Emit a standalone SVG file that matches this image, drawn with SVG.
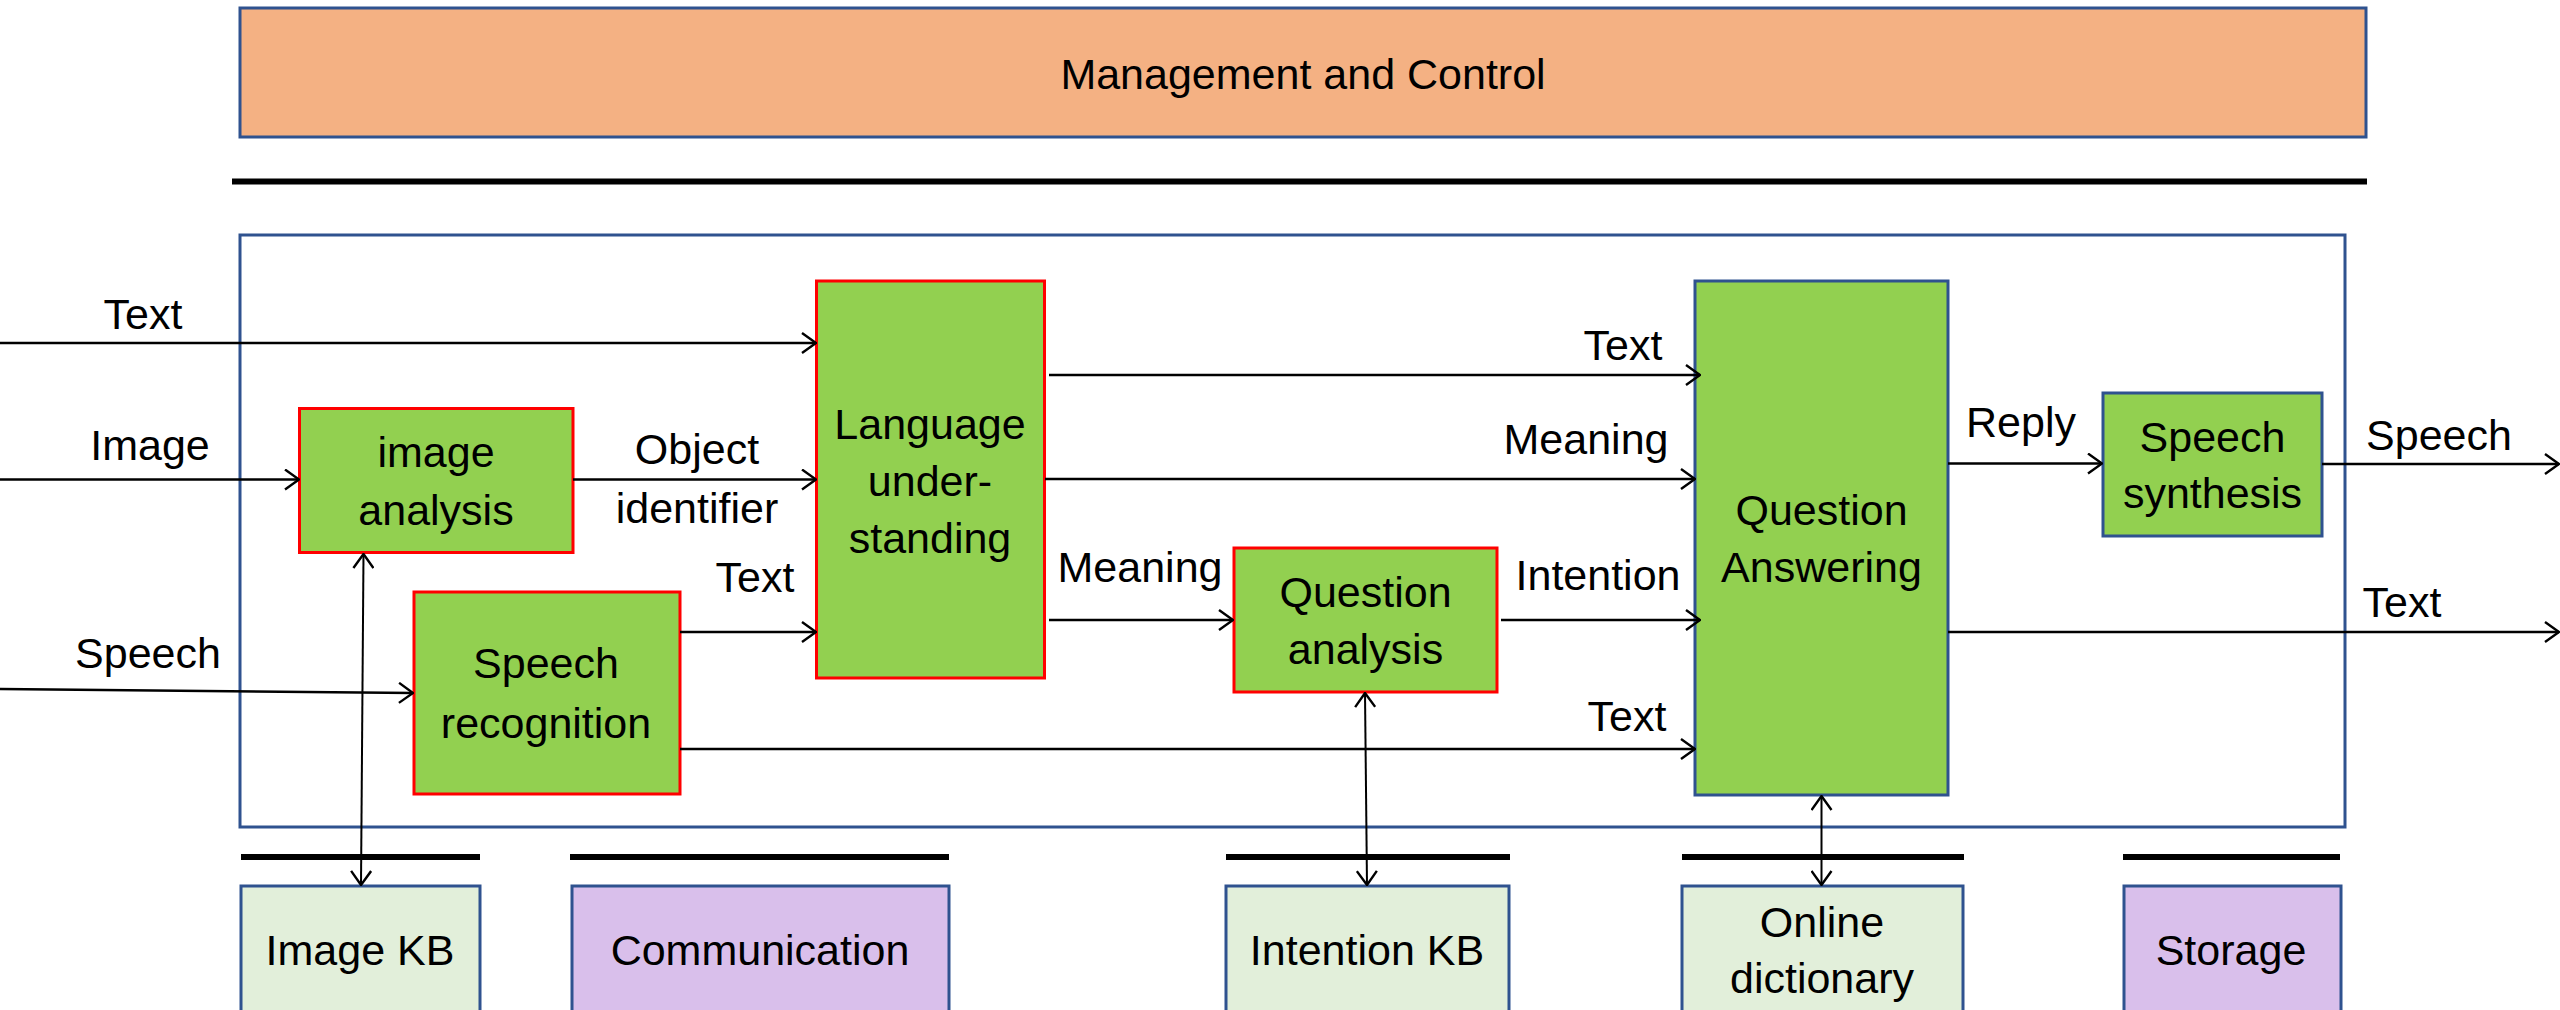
<svg xmlns="http://www.w3.org/2000/svg" width="2560" height="1010" viewBox="0 0 2560 1010">
<style>
text{font-family:"Liberation Sans",Arial,sans-serif;font-size:43px;fill:#000;text-anchor:middle}
.proc{fill:#92D050;stroke:#FF0000;stroke-width:3}
.procb{fill:#92D050;stroke:#2F528F;stroke-width:3}
.kb{fill:#E2EFDA;stroke:#2F528F;stroke-width:3}
.sys{fill:#D9BFEB;stroke:#2F528F;stroke-width:3}
.bar{stroke:#000;stroke-width:6}
.conn path{fill:none;stroke:#000;stroke-width:2.6;marker-end:url(#arr)}
.conn path.bi{stroke-width:2;marker-start:url(#arr)}
</style>
<defs>
<marker id="arr" viewBox="0 0 16 22" refX="15" refY="11" markerWidth="16" markerHeight="22" markerUnits="userSpaceOnUse" orient="auto-start-reverse">
<path d="M1,1 L15,11 L1,21" fill="none" stroke="#000" stroke-width="2.4"/>
</marker>
</defs>
<rect width="2560" height="1010" fill="#fff"/>
<g id="management">
<rect x="240" y="8" width="2126" height="129" fill="#F4B183" stroke="#2F528F" stroke-width="3"/>
<text x="1303" y="89">Management and Control</text>
</g>
<line class="bar" x1="232" y1="181.5" x2="2367" y2="181.5"/>
<g id="container"><rect x="240" y="235" width="2105" height="592" fill="none" stroke="#2F528F" stroke-width="3"/></g>
<g id="image-analysis"><rect class="proc" x="299.5" y="408.5" width="273.5" height="144"/><text x="436" y="467">image</text><text x="436" y="525">analysis</text></g>
<g id="speech-recognition"><rect class="proc" x="414" y="592" width="266" height="202"/><text x="546" y="678">Speech</text><text x="546" y="738">recognition</text></g>
<g id="language-understanding"><rect class="proc" x="816.5" y="281" width="228" height="397"/><text x="930" y="439">Language</text><text x="930" y="496">under-</text><text x="930" y="553">standing</text></g>
<g id="question-analysis"><rect class="proc" x="1234" y="548" width="263" height="144"/><text x="1365.5" y="607">Question</text><text x="1365.5" y="664">analysis</text></g>
<g id="question-answering"><rect class="procb" x="1695" y="281" width="253" height="514"/><text x="1821.5" y="525">Question</text><text x="1821.5" y="582">Answering</text></g>
<g id="speech-synthesis"><rect class="procb" x="2103" y="393" width="219" height="143"/><text x="2212.5" y="452">Speech</text><text x="2212.5" y="507.5">synthesis</text></g>
<g id="bars">
<line class="bar" x1="241" y1="857" x2="480" y2="857"/>
<line class="bar" x1="570" y1="857" x2="949" y2="857"/>
<line class="bar" x1="1226" y1="857" x2="1510" y2="857"/>
<line class="bar" x1="1682" y1="857" x2="1964" y2="857"/>
<line class="bar" x1="2123" y1="857" x2="2340" y2="857"/>
</g>
<g id="image-kb"><rect class="kb" x="241" y="886" width="239" height="130"/><text x="360" y="965">Image KB</text></g>
<g id="communication"><rect class="sys" x="572" y="886" width="377" height="130"/><text x="760" y="965">Communication</text></g>
<g id="intention-kb"><rect class="kb" x="1226" y="886" width="283" height="130"/><text x="1367" y="965">Intention KB</text></g>
<g id="online-dictionary"><rect class="kb" x="1682" y="886" width="281" height="130"/><text x="1822" y="937">Online</text><text x="1822" y="993">dictionary</text></g>
<g id="storage"><rect class="sys" x="2124" y="886" width="217" height="130"/><text x="2231" y="965">Storage</text></g>
<g id="connectors" class="conn">
<path d="M0,343 H816"/>
<path d="M0,479.5 H299"/>
<path d="M0,689 L413,693"/>
<path d="M573,479.5 H816"/>
<path d="M680,632 H816"/>
<path d="M680,749 H1695"/>
<path d="M1049,375 H1700"/>
<path d="M1045,479 H1695"/>
<path d="M1049,620 H1233"/>
<path d="M1501,620 H1700"/>
<path d="M1948,463.5 H2102"/>
<path d="M2322,464 H2559"/>
<path d="M1948,632 H2559"/>
<path class="bi" d="M363.5,554 L361,885"/>
<path class="bi" d="M1365,693 L1367,885"/>
<path class="bi" d="M1821.5,796 V885"/>
</g>
<g id="labels">
<text x="143" y="329">Text</text>
<text x="150" y="460">Image</text>
<text x="148" y="668">Speech</text>
<text x="697" y="464">Object</text>
<text x="697" y="523">identifier</text>
<text x="755" y="592">Text</text>
<text x="1623" y="360">Text</text>
<text x="1586" y="454">Meaning</text>
<text x="1140" y="582">Meaning</text>
<text x="1598" y="590">Intention</text>
<text x="1627" y="731">Text</text>
<text x="2021" y="437">Reply</text>
<text x="2439" y="450">Speech</text>
<text x="2402" y="617">Text</text>
</g>
</svg>
